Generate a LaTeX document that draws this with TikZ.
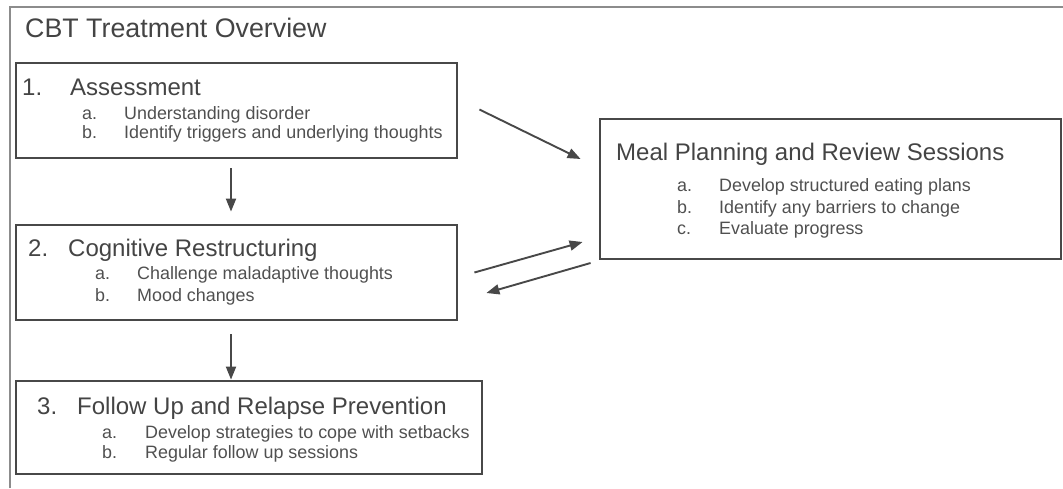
\documentclass[tikz,border=0pt]{standalone}
\usepackage{fontspec}
\setmainfont{Liberation Sans}
\usetikzlibrary{arrows.meta}
\definecolor{boxgray}{HTML}{484848}
\definecolor{txtgray}{HTML}{444444}
\definecolor{itemgray}{HTML}{505050}
\definecolor{frmgray}{HTML}{8C8C8C}
\tikzset{
    box/.style={draw=boxgray, line width=2.8pt, inner sep=0pt},
    ttl/.style={anchor=base west, inner sep=0pt, text=txtgray, font=\fontsize{26.8}{32}\selectfont},
    head/.style={anchor=base west, inner sep=0pt, text=txtgray, font=\fontsize{24}{29}\selectfont},
    item/.style={anchor=base west, inner sep=0pt, text=itemgray, font=\fontsize{17.9}{21}\selectfont},
    arr/.style={draw=boxgray, line width=1.9pt, -{Triangle[length=13pt,width=10pt]}},
}
\begin{document}
\begin{tikzpicture}[x=1pt, y=-1pt]
\useasboundingbox (0,0) rectangle (1063,488);
\draw[frmgray, line width=1.6pt] (10,488)--(10,7)--(1063,7);

\node[ttl] (title) at (25,37) {CBT Treatment Overview};

% boxes
\node[box, minimum width=441, minimum height=95] (assess) at (236.5,110.5) {};
\node[box, minimum width=441, minimum height=95] (restr) at (236.5,272.5) {};
\node[box, minimum width=466, minimum height=93] (follow) at (249,427.5) {};
\node[box, minimum width=461, minimum height=140] (meal) at (830.5,189) {};

\node[head] (n1) at (22,95) {1.};
\node[head] (h1) at (70,95) {Assessment};
\foreach \y/\n/\txt in {119/a/Understanding disorder,138/b/Identify triggers and underlying thoughts}
{
    \node[item] (l1\n) at (82,\y) {\n.};
    \node[item] (t1\n) at (124,\y) {\txt};
}

\node[head] (n2) at (28,256) {2.};
\node[head] (h2) at (68,256) {Cognitive Restructuring};
\foreach \y/\n/\txt in {279/a/Challenge maladaptive thoughts,301/b/Mood changes}
{
    \node[item] (l2\n) at (95,\y) {\n.};
    \node[item] (t2\n) at (137,\y) {\txt};
}

\node[head] (n3) at (37,414) {3.};
\node[head] (h3) at (77,414) {Follow Up and Relapse Prevention};
\foreach \y/\n/\txt in {438/a/Develop strategies to cope with setbacks,458/b/Regular follow up sessions}
{
    \node[item] (l3\n) at (102,\y) {\n.};
    \node[item] (t3\n) at (145,\y) {\txt};
}

\node[head] (h4) at (616,160) {Meal Planning and Review Sessions};
\foreach \y/\n/\txt in {191/a/Develop structured eating plans,213/b/Identify any barriers to change,234/c/Evaluate progress}
{
    \node[item] (l4\n) at (677,\y) {\n.};
    \node[item] (t4\n) at (719,\y) {\txt};
}

% arrows
\draw[arr] ([xshift=-5.5pt,yshift=-9pt]assess.south) -- ([xshift=-5.5pt,yshift=12pt]restr.north);
\draw[arr] ([xshift=-5.5pt,yshift=-13pt]restr.south) -- ([xshift=-18pt]follow.north);
\draw[arr] ([xshift=21pt,yshift=1pt]assess.east) -- ([xshift=-18pt,yshift=30pt]meal.west);
\draw[arr] ([xshift=16pt]restr.east) -- ([xshift=-16pt,yshift=-53pt]meal.west);
\draw[arr] ([xshift=-8pt,yshift=-74pt]meal.west) -- ([xshift=28pt,yshift=-20.5pt]restr.east);
\end{tikzpicture}
\end{document}
